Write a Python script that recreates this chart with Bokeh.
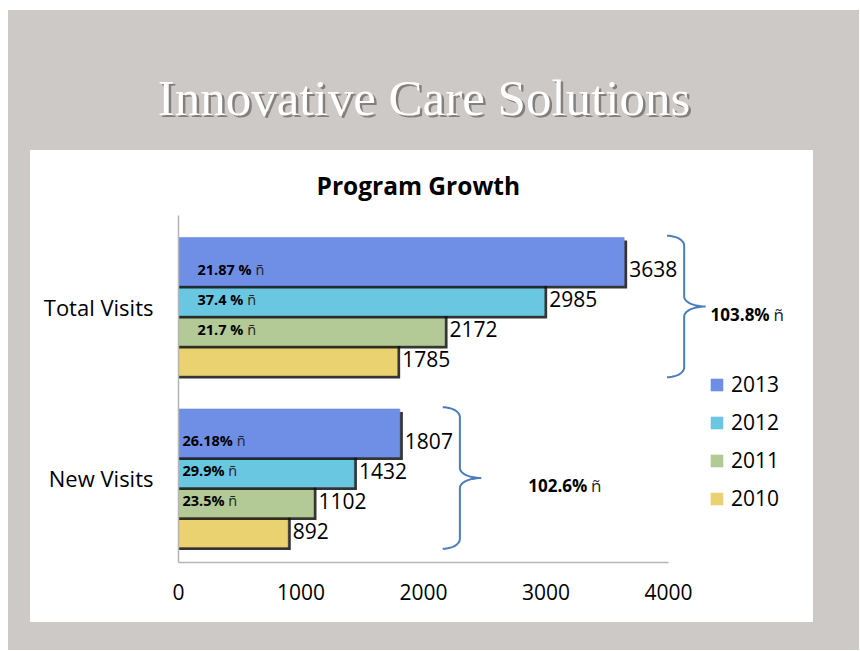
from bokeh.plotting import figure
from bokeh.models import Range1d, FixedTicker, Legend, LegendItem, ColumnDataSource, Spacer
from bokeh.layouts import column, row
from bokeh.embed import file_html
from bokeh.resources import INLINE
from bokeh.core.properties import value
import numpy as np

# ---------------- data ----------------
slide_title = "Innovative Care Solutions"
chart_title = "Program Growth"
categories = ["Total Visits", "New Visits"]
years = ["2010", "2011", "2012", "2013"]
visits_2010 = [1785, 892]
visits_2011 = [2172, 1102]
visits_2012 = [2985, 1432]
visits_2013 = [3638, 1807]
growth_2011 = ["21.7 %", "23.5%"]
growth_2012 = ["37.4 %", "29.9%"]
growth_2013 = ["21.87 %", "26.18%"]
total_growth = ["103.8%", "102.6%"]
arrow_mark = "ñ"
x_ticks = [0, 1000, 2000, 3000, 4000]

# ---------------- styles ----------------
BG = "#cdc9c6"
FONT = "Open Sans"
colors = {"2010": "#ebd270", "2011": "#b3c996", "2012": "#6ac7e2", "2013": "#6f8fe6"}
offsets = {"2010": -0.2625, "2011": -0.0875, "2012": 0.0875, "2013": 0.2625}
BAR_H = 0.28
BRACE_COLOR = "#4a7ebb"

GREY_W = 851
TOP_H = 140
PANEL_W, PANEL_H = 783, 472
BOTTOM_H = 28
LEFT_W = 22
RIGHT_W = GREY_W - LEFT_W - PANEL_W

ML, MT, MB = 148, 65, 60
FRAME_W = PANEL_W - ML
FRAME_H = PANEL_H - MT - MB
PX_PER_UNIT_X = 490 / 4000.0
X_END = FRAME_W / PX_PER_UNIT_X
PX_PER_UNIT_Y = 171.5
Y_END = 2 + 91 / PX_PER_UNIT_Y
Y_START = Y_END - FRAME_H / PX_PER_UNIT_Y

sx = 3 / PX_PER_UNIT_X   # shadow offsets
sy = 3 / PX_PER_UNIT_Y

cat_pos = [len(categories) - i for i in range(len(categories))]
series = {"2010": visits_2010, "2011": visits_2011, "2012": visits_2012, "2013": visits_2013}

# ---------------- top title strip (transparent, grey comes from container) ----------------
top = figure(width=GREY_W, height=TOP_H, x_range=Range1d(0, GREY_W), y_range=Range1d(0, TOP_H),
             min_border=0, toolbar_location=None, output_backend="svg",
             background_fill_color=None, border_fill_color=None, outline_line_color=None)
top.axis.visible = False
top.grid.visible = False
tx, ty = 423.5 - 8, TOP_H - 106 + 19
top.text(x=[tx + 2.5], y=[ty - 2.5], text=[slide_title], text_font=value("Liberation Serif"),
         text_font_size="51px", text_color="#3a3633", text_alpha=0.5,
         text_align="center", text_baseline="alphabetic")
top.text(x=[tx], y=[ty], text=[slide_title], text_font=value("Liberation Serif"),
         text_font_size="51px", text_color="white",
         text_align="center", text_baseline="alphabetic")

# ---------------- main chart (white comes from its own element style) ----------------
p = figure(width=PANEL_W, height=PANEL_H, x_range=Range1d(0, X_END), y_range=Range1d(Y_START, Y_END),
           output_backend="svg", toolbar_location=None,
           min_border_left=ML, min_border_right=0, min_border_top=MT, min_border_bottom=MB,
           background_fill_color=None, border_fill_color=None, outline_line_color=None,
           styles={"background-color": "white"})
p.grid.visible = False

p.title.text = chart_title
p.title.text_font = FONT
p.title.text_font_size = "24.5px"
p.title.text_font_style = "bold"
p.title.text_color = "black"
p.title.align = "left"
p.title.offset = 138
p.title.standoff = 28

p.xaxis.ticker = FixedTicker(ticks=x_ticks)
p.xaxis.bounds = (x_ticks[0], x_ticks[-1])
p.yaxis.ticker = FixedTicker(ticks=cat_pos)
p.yaxis.major_label_overrides = {c: lab for c, lab in zip(cat_pos, categories)}
for ax in (p.xaxis, p.yaxis):
    ax.major_tick_line_color = None
    ax.minor_tick_line_color = None
    ax.axis_line_color = "#b5b5b5"
    ax.axis_line_width = 1.5
    ax.major_label_text_font = FONT
    ax.major_label_text_font_size = "21px"
    ax.major_label_text_color = "black"
p.yaxis.major_label_text_font_size = "22px"
p.xaxis.major_label_standoff = 15
p.yaxis.major_label_standoff = 19

renderers = {}
for yr in years:
    vals = series[yr]
    ys = [c + offsets[yr] for c in cat_pos]
    sh = ColumnDataSource(dict(y=[v - sy for v in ys], right=[v + sx for v in vals]))
    p.hbar(y="y", left=0, right="right", height=BAR_H, source=sh,
           fill_color="#111111", fill_alpha=0.85, line_color=None)
    src = ColumnDataSource(dict(y=ys, right=vals))
    renderers[yr] = p.hbar(y="y", left=0, right="right", height=BAR_H, source=src,
                           fill_color=colors[yr], line_color=colors[yr], line_alpha=0.6)

# value labels
lab_dy = -0.045
for yr in years:
    vals = series[yr]
    ys = [c + offsets[yr] + lab_dy for c in cat_pos]
    p.text(x=vals, y=ys, text=[str(v) for v in vals], x_offset=5,
           text_font=value(FONT), text_font_size="21px", text_color="black",
           text_align="left", text_baseline="middle")

# year-over-year growth labels inside bars
W_BOLD = {c: 0.572 for c in "0123456789"}
W_BOLD.update({".": 0.286, " ": 0.26, "%": 0.885})


def text_w(s, size):
    return sum(W_BOLD.get(ch, 0.6) for ch in s) * size


pct_size = 14.5
pct_x_off = [19, 4]
for yr, labels in (("2011", growth_2011), ("2012", growth_2012), ("2013", growth_2013)):
    ys = [c + offsets[yr] + lab_dy for c in cat_pos]
    src = ColumnDataSource(dict(x=[0] * len(ys), y=ys, text=labels, xo=pct_x_off,
                                xo2=[o + text_w(t, pct_size) + 4 for o, t in zip(pct_x_off, labels)],
                                arrow=[arrow_mark] * len(ys)))
    p.text(x="x", y="y", text="text", x_offset="xo", source=src,
           text_font=value(FONT), text_font_size=f"{pct_size}px", text_font_style="bold",
           text_color="black", text_align="left", text_baseline="middle")
    p.text(x="x", y="y", text="arrow", x_offset="xo2", source=src,
           text_font=value(FONT), text_font_size=f"{pct_size}px",
           text_color="#222222", text_align="left", text_baseline="middle")

# braces with total growth
brace_gap, brace_w, brace_tip, brace_r = 350, 140, 175, 0.058
xs_all, ys_all, tip_x, tip_y = [], [], [], []
for i, c in enumerate(cat_pos):
    vmax = max(series[yr][i] for yr in years)
    x0 = vmax + brace_gap
    xa = x0 + brace_w
    xt = xa + brace_tip
    yt = c + offsets["2013"] + BAR_H / 2 + 0.01
    yb = c + offsets["2010"] - BAR_H / 2 - 0.01
    ym = c
    th1 = np.linspace(np.pi / 2, 0, 12)
    th2 = np.linspace(np.pi, 1.5 * np.pi, 12)
    th3 = np.linspace(0.5 * np.pi, np.pi, 12)
    th4 = np.linspace(0, -0.5 * np.pi, 12)
    bx = np.concatenate([x0 + (xa - x0) * np.cos(th1),
                         xt + (xt - xa) * np.cos(th2),
                         xt + (xt - xa) * np.cos(th3),
                         x0 + (xa - x0) * np.cos(th4)])
    by = np.concatenate([yt - brace_r + brace_r * np.sin(th1),
                         ym + brace_r + brace_r * np.sin(th2),
                         ym - brace_r + brace_r * np.sin(th3),
                         yb + brace_r + brace_r * np.sin(th4)])
    xs_all.append(list(bx))
    ys_all.append(list(by))
    tip_x.append(xt)
    tip_y.append(ym + lab_dy)
p.multi_line(xs=xs_all, ys=ys_all, line_color=BRACE_COLOR, line_width=2)

tg_size = 17
tg_x_off = [5, 47]
tg_src = ColumnDataSource(dict(x=tip_x, y=tip_y, text=total_growth, xo=tg_x_off,
                               xo2=[o + text_w(t, tg_size) + 4 for o, t in zip(tg_x_off, total_growth)],
                               arrow=[arrow_mark] * len(tip_x)))
p.text(x="x", y="y", text="text", x_offset="xo", source=tg_src,
       text_font=value(FONT), text_font_size=f"{tg_size}px", text_font_style="bold",
       text_color="black", text_align="left", text_baseline="middle")
p.text(x="x", y="y", text="arrow", x_offset="xo2", source=tg_src,
       text_font=value(FONT), text_font_size=f"{tg_size}px",
       text_color="#222222", text_align="left", text_baseline="middle")

legend = Legend(items=[LegendItem(label=yr, renderers=[renderers[yr]]) for yr in reversed(years)],
                location=(531, 50), orientation="vertical",
                glyph_width=15, glyph_height=15, label_standoff=7, spacing=10,
                padding=0, margin=0, border_line_color=None, background_fill_alpha=0,
                label_text_font=FONT, label_text_font_size="21px", label_text_color="black")
p.add_layout(legend)

grey_block = column(top,
                    row(Spacer(width=LEFT_W, height=PANEL_H), p, Spacer(width=RIGHT_W, height=PANEL_H),
                        spacing=0),
                    Spacer(width=GREY_W, height=BOTTOM_H),
                    spacing=0, styles={"background-color": BG})
layout = column(Spacer(width=GREY_W + 8, height=10),
                row(Spacer(width=8, height=TOP_H + PANEL_H + BOTTOM_H), grey_block, spacing=0),
                spacing=0)

with open("out.html", "w") as f:
    f.write(file_html(layout, INLINE))
